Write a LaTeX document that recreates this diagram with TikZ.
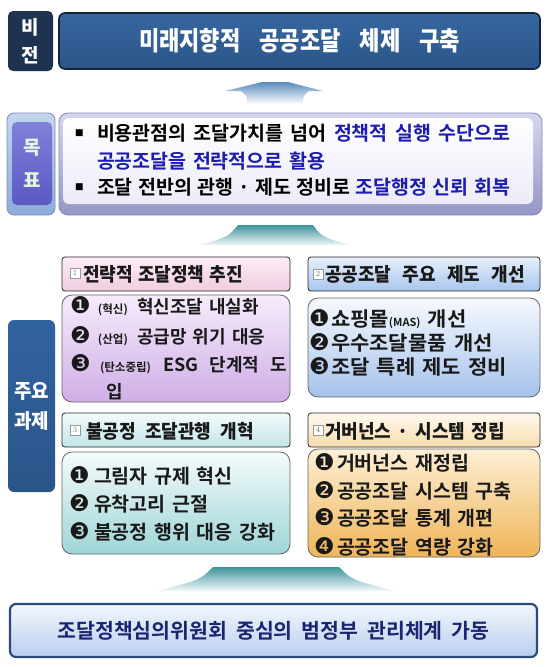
\documentclass[tikz,border=0pt]{standalone}
\usepackage{fontspec}
\newfontfamily\krN{Noto Sans CJK KR Bold}[WordSpace=1.5]
\newfontfamily\krW{Noto Sans CJK KR Bold}[FakeStretch=1.05,WordSpace=1.5]
\newfontfamily\krH{Noto Sans CJK KR Black}[FakeStretch=0.95,WordSpace=1.5]
\newfontfamily\krT{Noto Sans CJK KR Black}[FakeStretch=0.85,WordSpace=1.5]
\newfontfamily\krL{Noto Sans CJK KR Black}
\newfontfamily\dv{DejaVu Sans}
\newcommand\dingnum[1]{{\dv\fontsize{23}{23}\selectfont#1}}
\newcommand\smallp[1]{{\fontsize{11.5}{11.5}\selectfont#1}}
\definecolor{navyL}{HTML}{1E3350}
\definecolor{visTop}{HTML}{3767A0}
\definecolor{visBot}{HTML}{2A5589}
\definecolor{visEdge}{HTML}{14233A}
\definecolor{gLblTop}{HTML}{C3D6EE}
\definecolor{gLblBot}{HTML}{8CADD9}
\definecolor{gInTop}{HTML}{8081DA}
\definecolor{gInBot}{HTML}{5A58C4}
\definecolor{mint}{HTML}{E6F5E2}
\definecolor{gRimTop}{HTML}{D6D7EE}
\definecolor{gRimBot}{HTML}{9496C6}
\definecolor{gEdge}{HTML}{8688BB}
\definecolor{gFillBot}{HTML}{ECEBF8}
\definecolor{gblue}{HTML}{1C1CB0}
\definecolor{taskTop}{HTML}{3163A0}
\definecolor{taskBot}{HTML}{2A5589}
\definecolor{hATop}{HTML}{FCEEF6}
\definecolor{hABot}{HTML}{F1CBE0}
\definecolor{cATop}{HTML}{F6ECFC}
\definecolor{cABot}{HTML}{CFAEE6}
\definecolor{hBTop}{HTML}{E8F0FB}
\definecolor{hBBot}{HTML}{A8C5EE}
\definecolor{cBTop}{HTML}{F6F9FE}
\definecolor{cBBot}{HTML}{A4C2EC}
\definecolor{hCTop}{HTML}{F4FBFC}
\definecolor{hCBot}{HTML}{C2E4E8}
\definecolor{cCTop}{HTML}{F5FBFB}
\definecolor{cCBot}{HTML}{9ED5D7}
\definecolor{hDTop}{HTML}{FFF9EE}
\definecolor{hDBot}{HTML}{F8DDAE}
\definecolor{cDTop}{HTML}{FDF0D6}
\definecolor{cDBot}{HTML}{EFB457}
\definecolor{botTop}{HTML}{F3F7FD}
\definecolor{botBot}{HTML}{B9CEEE}
\definecolor{botEdge}{HTML}{2B4A7A}
\definecolor{botText}{HTML}{1B2572}
\definecolor{arrowA}{HTML}{5A8BBD}
\definecolor{arrowB}{HTML}{3E949C}
\begin{document}
\begin{tikzpicture}[x=1pt,y=-1pt,
  panel/.style={anchor=north west, inner sep=0pt, outer sep=0pt},
  txt/.style={anchor=west, inner sep=0pt, outer sep=0pt},
  hdrbox/.style={panel, draw=black!85, line width=0.8pt, rounded corners=3pt, minimum height=34pt},
  cntbox/.style={panel, draw=black!60, line width=0.8pt, rounded corners=10pt},
  sqnum/.style={draw=black!40, line width=0.4pt, fill=white, minimum size=10pt, inner sep=0pt, font=\rmfamily\fontsize{8}{8}\selectfont, text=black!55},
  hdrtxt/.style={txt, font=\krH\fontsize{19}{19}\selectfont, text=black!90},
  itemA/.style={txt, font=\krN\fontsize{18}{18}\selectfont, text=black!90},
  itemB/.style={txt, font=\krW\fontsize{20}{20}\selectfont, text=black!90},
  itemC/.style={txt, font=\krN\fontsize{19.5}{19.5}\selectfont, text=black!90},
  goaltxt/.style={txt, font=\krN\fontsize{19.5}{19.5}\selectfont, text=black}]
\useasboundingbox (0,0) rectangle (550,667);
\fill[white] (0,0) rectangle (550,667);

% vision
\node[panel, fill=navyL, rounded corners=5pt, minimum width=45pt, minimum height=60pt, text=white, align=center, font=\krL\fontsize{19}{28}\selectfont] (visionLabel) at (8,11) {비\\전};
\node[panel, draw=visEdge, line width=1.6pt, top color=visTop, bottom color=visBot, rounded corners=6pt, minimum width=481pt, minimum height=56pt, text=white, font=\krT\fontsize{26}{26}\selectfont] (vision) at (59,13) {\makebox[321pt][s]{미래지향적 공공조달 체제 구축}};

% arrow 1
\shade[top color=arrowA, bottom color=white] (225,91) -- (262,82) -- (288,82) -- (323,91) -- (309,91) .. controls (303,96) .. (303,104) -- (247,104) .. controls (247,96) .. (241,91) -- cycle;

% goal
\node[panel, draw=gEdge, line width=0.8pt, top color=gLblTop, bottom color=gLblBot, rounded corners=7pt, minimum width=48pt, minimum height=102pt] (goalLabel) at (7,113) {};
\node[panel, top color=gInTop, bottom color=gInBot, rounded corners=5pt, minimum width=40pt, minimum height=83pt, text=mint, align=center, font=\krL\fontsize{19}{33}\selectfont] (goalLabelIn) at (12,122) {목\\표};
\node[panel, draw=gEdge, line width=0.8pt, top color=gRimTop, bottom color=gRimBot, rounded corners=9pt, minimum width=483pt, minimum height=102pt] (goal) at (59,113) {};
\node[panel, top color=white, bottom color=gFillBot, rounded corners=6pt, minimum width=470pt, minimum height=86pt] (goalIn) at (63,118) {};
\node[txt, font=\dv\fontsize{9}{9}\selectfont] (gb1) at (75,133) {■};
\node[goaltxt] (g1) at (97,133) {\makebox[413pt][s]{비용관점의 조달가치를 넘어 \textcolor{gblue}{정책적 실행 수단으로}}};
\node[goaltxt, text=gblue] (g2) at (97,161) {\makebox[228pt][s]{공공조달을 전략적으로 활용}};
\node[txt, font=\dv\fontsize{9}{9}\selectfont] (gb2) at (75,187) {■};
\node[goaltxt] (g3) at (97,187) {\makebox[413pt][s]{조달 전반의 관행 · 제도 정비로 \textcolor{gblue}{조달행정 신뢰 회복}}};

% arrow 2
\shade[top color=arrowB, bottom color=arrowB!8] (238,225) -- (313,225) .. controls (322,237) .. (350,245) -- (200,245) .. controls (228,237) .. (238,225) -- cycle;

% tasks label
\node[panel, top color=taskTop, bottom color=taskBot, rounded corners=6pt, minimum width=47pt, minimum height=172pt, text=white, align=center, font=\krH\fontsize{20}{30}\selectfont] (taskLabel) at (8,320) {주요\\과제};

% task 1
\node[hdrbox, top color=hATop, bottom color=hABot, minimum width=228pt] (hA) at (62,257) {};
\node[sqnum] (nA) at (75,273) {1};
\node[hdrtxt] (hAt) at (83,274) {\makebox[160pt][s]{전략적 조달정책 추진}};
\node[cntbox, top color=cATop, bottom color=cABot, minimum width=228pt, minimum height=107pt] (cA) at (62,295) {};
\node[itemA] (a1) at (70,306) {\makebox[28pt][l]{\dingnum{❶}}\makebox[39pt][l]{\smallp{(혁신)}}혁신조달 내실화};
\node[itemA] (a2) at (70,336) {\makebox[28pt][l]{\dingnum{❷}}\makebox[39pt][l]{\smallp{(산업)}}공급망 위기 대응};
\node[itemA] (a3) at (70,364) {\makebox[30pt][l]{\dingnum{❸}}\makebox[63pt][l]{\smallp{(탄소중립)}}\makebox[124pt][s]{ESG 단계적 도}};
\node[itemA] (a4) at (106,392) {입};

% task 2
\node[hdrbox, top color=hBTop, bottom color=hBBot, minimum width=232pt] (hB) at (308,257) {};
\node[sqnum] (nB) at (318,274) {2};
\node[hdrtxt] (hBt) at (325,274) {\makebox[200pt][s]{공공조달 주요 제도 개선}};
\node[cntbox, top color=cBTop, bottom color=cBBot, minimum width=232pt, minimum height=99pt] (cB) at (308,298) {};
\node[itemB] (b1) at (309,319) {\makebox[22pt][l]{\dingnum{❶}}쇼핑몰{\krN\fontsize{11}{11}\selectfont(MAS)} 개선};
\node[itemB] (b2) at (309,343) {\makebox[22pt][l]{\dingnum{❷}}우수조달물품 개선};
\node[itemB] (b3) at (309,367) {\makebox[22pt][l]{\dingnum{❸}}조달 특례 제도 정비};

% task 3
\node[hdrbox, top color=hCTop, bottom color=hCBot, minimum width=228pt] (hC) at (62,413) {};
\node[sqnum] (nC) at (75,430) {3};
\node[hdrtxt] (hCt) at (86,431) {\makebox[168pt][s]{불공정 조달관행 개혁}};
\node[cntbox, top color=cCTop, bottom color=cCBot, minimum width=228pt, minimum height=102pt] (cC) at (62,452) {};
\node[itemC] (c1) at (69,476) {\makebox[25pt][l]{\dingnum{❶}}그림자 규제 혁신};
\node[itemC] (c2) at (69,504) {\makebox[25pt][l]{\dingnum{❷}}유착고리 근절};
\node[itemC] (c3) at (69,532) {\makebox[25pt][l]{\dingnum{❸}}불공정 행위 대응 강화};

% task 4
\node[hdrbox, top color=hDTop, bottom color=hDBot, minimum width=232pt] (hD) at (308,413) {};
\node[sqnum] (nD) at (318,430) {4};
\node[hdrtxt] (hDt) at (325,431) {\makebox[180pt][s]{거버넌스 · 시스템 정립}};
\node[cntbox, top color=cDTop, bottom color=cDBot, minimum width=232pt, minimum height=108pt] (cD) at (308,449) {};
\node[itemC] (d1) at (314,463) {\makebox[23pt][l]{\dingnum{❶}}거버넌스 재정립};
\node[itemC] (d2) at (314,491) {\makebox[23pt][l]{\dingnum{❷}}공공조달 시스템 구축};
\node[itemC] (d3) at (314,518) {\makebox[23pt][l]{\dingnum{❸}}공공조달 통계 개편};
\node[itemC] (d4) at (314,547) {\makebox[23pt][l]{\dingnum{❹}}공공조달 역량 강화};

% arrow 3
\shade[top color=arrowB, bottom color=arrowB!6] (213,567) -- (339,567) .. controls (352,580) .. (395,591) -- (157,591) .. controls (200,580) .. (213,567) -- cycle;

% base
\node[panel, draw=botEdge, line width=2.2pt, top color=botTop, bottom color=botBot, rounded corners=6pt, minimum width=527pt, minimum height=53pt, text=botText, font=\krN\fontsize{20.5}{20.5}\selectfont] (base) at (10,604) {\makebox[432pt][s]{조달정책심의위원회 중심의 범정부 관리체계 가동}};
\end{tikzpicture}
\end{document}
